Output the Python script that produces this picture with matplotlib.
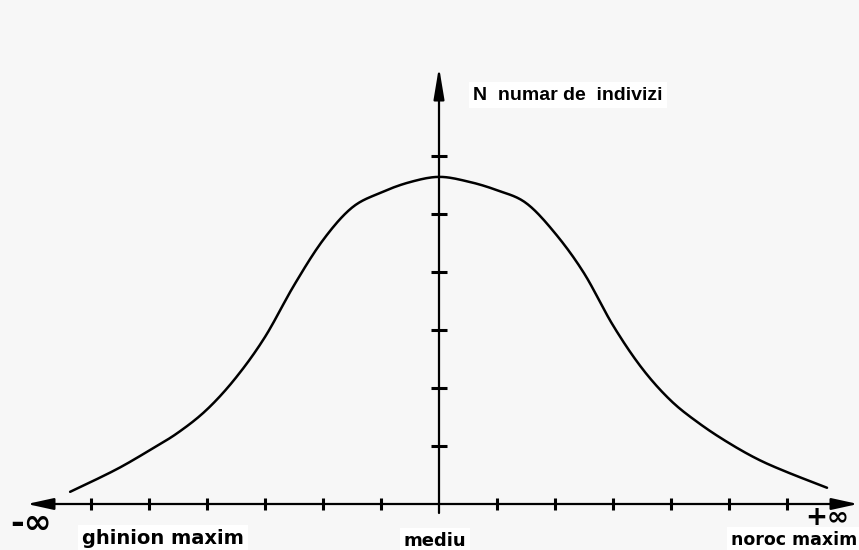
import numpy as np
import matplotlib
matplotlib.use("Agg")
import matplotlib.pyplot as plt

# ---- data (units = tick spacing) ----
curve_x = [-6.36, -6.0, -5.5, -5.0, -4.5, -4.0, -3.5, -3.0, -2.5, -2.0,
           -1.5, -1.0, -0.5, 0.0, 0.5, 1.0, 1.5, 2.0, 2.5, 3.0,
           3.5, 4.0, 4.5, 5.0, 5.5, 6.0, 6.69]
curve_y = [0.21, 0.38, 0.63, 0.92, 1.23, 1.63, 2.18, 2.88, 3.77, 4.55,
           5.11, 5.37, 5.55, 5.64, 5.56, 5.41, 5.19, 4.67, 3.98, 3.08,
           2.34, 1.78, 1.38, 1.05, 0.77, 0.55, 0.28]
x_ticks = [-6, -5, -4, -3, -2, -1, 1, 2, 3, 4, 5, 6]
y_ticks = [1, 2, 3, 4, 5, 6]
y_title = "N  numar de  indivizi"
left_label = "ghinion maxim"
mid_label = "mediu"
right_label = "noroc maxim"
left_inf = "-\u221e"
right_inf = "+\u221e"

# ---- layout helpers (pixel -> data) ----
UNIT = 58.0
X0, Y0 = 439.0, 504.0
def px(x):
    return (x - X0) / UNIT
def py(y):
    return (Y0 - y) / UNIT


def catmull_rom(x, y, n=16):
    p = np.column_stack([x, y])
    p = np.vstack([p[0] * 2 - p[1], p, p[-1] * 2 - p[-2]])
    out = []
    t = np.linspace(0, 1, n, endpoint=False)[:, None]
    for i in range(1, len(p) - 2):
        p0, p1, p2, p3 = p[i - 1], p[i], p[i + 1], p[i + 2]
        seg = 0.5 * ((2 * p1) + (-p0 + p2) * t + (2 * p0 - 5 * p1 + 4 * p2 - p3) * t ** 2
                     + (-p0 + 3 * p1 - 3 * p2 + p3) * t ** 3)
        out.append(seg)
    out.append(p[-2][None, :])
    out = np.vstack(out)
    return out[:, 0], out[:, 1]


bg = "#f7f7f7"
fig = plt.figure(figsize=(8.59, 5.5), dpi=100, facecolor=bg)
ax = fig.add_axes([0, 0, 1, 1])
ax.set_facecolor(bg)
ax.axis("off")
ax.set_xlim(px(0), px(859))
ax.set_ylim(py(550), py(0))

# axes with arrows
ax.annotate("", xy=(px(27), 0), xytext=(px(858), 0),
            arrowprops=dict(arrowstyle="<|-|>,head_length=1.0,head_width=0.22",
                            lw=1.6, color="black", mutation_scale=16,
                            shrinkA=0, shrinkB=0))
ax.annotate("", xy=(0, py(67)), xytext=(0, py(513)),
            arrowprops=dict(arrowstyle="-|>,head_length=1.2,head_width=0.2",
                            lw=1.6, color="black", mutation_scale=16,
                            shrinkA=0, shrinkB=0))

# ticks
ax.plot(x_ticks, [0] * len(x_ticks), ls="none", marker="|", ms=9, mew=2.2, color="black")
ax.plot([0] * len(y_ticks), y_ticks, ls="none", marker="_", ms=12, mew=2.2, color="black")

# curve
sx, sy = catmull_rom(curve_x, curve_y)
ax.plot(sx, sy, color="black", lw=1.8, solid_capstyle="round")

box = dict(facecolor="white", edgecolor="none", pad=3)
ax.text(px(473), py(95), y_title, ha="left", va="center", fontsize=14,
        fontweight="bold", family="Liberation Sans", bbox=box)
ax.text(px(163), py(539), left_label, ha="center", va="center", fontsize=14,
        fontweight="bold", family="DejaVu Sans", bbox=box)
ax.text(px(435), py(541), mid_label, ha="center", va="center", fontsize=13,
        fontweight="bold", family="DejaVu Sans", bbox=box)
ax.text(px(731), py(540), right_label, ha="left", va="center", fontsize=12.5,
        fontweight="bold", family="DejaVu Sans", bbox=box)
ax.text(px(10), py(523), left_inf, ha="left", va="center", fontsize=24,
        fontweight="bold", family="DejaVu Sans")
ax.text(px(805), py(518), right_inf, ha="left", va="center", fontsize=19,
        fontweight="bold", family="DejaVu Sans")

fig.savefig("out.png", dpi=100, facecolor=bg)
